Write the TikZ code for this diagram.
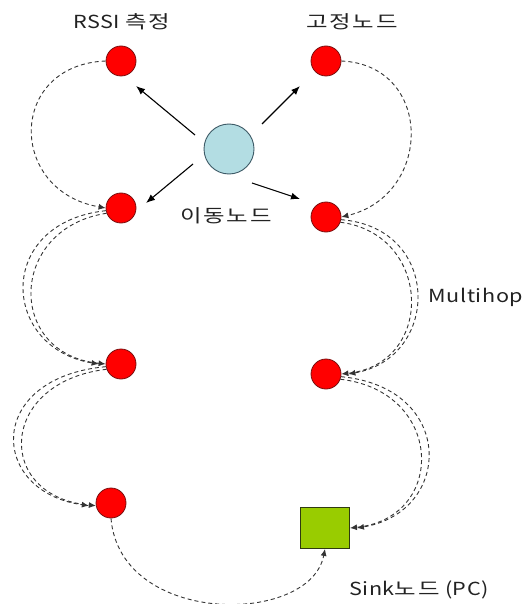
\documentclass[tikz,border=0pt]{standalone}
\usepackage{fontspec}
% Hangul and Latin runs use the same face with different tracking
\newfontfamily\krh[FakeStretch=1.3,LetterSpace=10]{Noto Sans CJK KR}
\newfontfamily\krl[FakeStretch=1.2,LetterSpace=3]{Noto Sans CJK KR}
\usetikzlibrary{arrows.meta,calc}
\definecolor{sensorred}{HTML}{FF0000}
\definecolor{sensoredge}{HTML}{7A1010}
\definecolor{mobilefill}{HTML}{B3DDE3}
\definecolor{mobileedge}{HTML}{3D5A66}
\definecolor{sinkfill}{HTML}{99CC00}
\definecolor{sinkedge}{HTML}{2F3A10}
\definecolor{linkgray}{HTML}{333333}
\definecolor{labelgray}{HTML}{222222}
\begin{document}
\begin{tikzpicture}[x=1pt,y=-1pt,
  sensor/.style={circle,fill=sensorred,draw=sensoredge,line width=0.8pt,minimum size=30pt,inner sep=0pt},
  mobile/.style={circle,fill=mobilefill,draw=mobileedge,line width=0.9pt,minimum size=50pt,inner sep=0pt},
  sinkbox/.style={rectangle,fill=sinkfill,draw=sinkedge,line width=0.9pt,minimum width=49pt,minimum height=41pt,inner sep=0pt},
  lbl/.style={font=\fontsize{18}{20}\selectfont,text=labelgray,inner sep=0pt},
  push/.style={draw=black,line width=1.1pt,-{Latex[length=9pt,width=7pt]}},
  link/.style={draw=linkgray,line width=0.9pt,dash pattern=on 4pt off 3pt,-{Latex[length=7pt,width=6pt]}}]
\useasboundingbox (0,0) rectangle (528,604);
\fill[white] (0,0) rectangle (528,604);

% nodes
\node[sensor] (L1) at (121,61) {};
\node[sensor] (R1) at (326,61) {};
\node[mobile] (C) at (229,149) {};
\node[sensor] (L2) at (121,208) {};
\node[sensor] (R2) at (326,217) {};
\node[sensor] (L3) at (121,364) {};
\node[sensor] (R3) at (326,374) {};
\node[sensor] (L4) at (111,503) {};
\node[sinkbox] (S) at (325,528) {};

% labels
\node[lbl] (tRssi) at (122,22) {\krl RSSI \krh 측정};
\node[lbl] (tFixed) at (352,22) {\krh 고정노드};
\node[lbl] (tMobile) at (226,216) {\krh 이동노드};
\node[lbl] (tHop) at (476,297) {\krl Multihop};
\node[lbl] (tSink) at (419,590) {\krl Sink\krh 노드\krl{} (PC)};

% mobile node broadcasting to its neighbours
\draw[push] ($(C)+(-34,-14)$) -- ($(L1)+(15,25)$);
\draw[push] ($(C)+(33,-25)$) -- ($(R1)+(-26,25)$);
\draw[push] ($(C)+(-36,15)$) -- ($(L2)+(25,-5)$);
\draw[push] ($(C)+(23,34)$) -- ($(R2)+(-26,-18)$);

% first hop (single)
\draw[link] (L1.west) .. controls +(-98,4) and +(-98,-17) .. (L2.west);
\draw[link] (R1.east) .. controls +(92,4) and +(92,-22) .. (R2.east);

% multihop relays (double, tips stacked on one line)
\draw[link] (L2.190) .. controls +(-111,12) and +(-98,-16) .. ([xshift=-7pt]L3.west);
\draw[link] (L2.200) .. controls +(-98,15) and +(-100,-10) .. (L3.west);

\draw[link] (R2.-10) .. controls +(101,8) and +(92,-16) .. ([xshift=7pt]R3.east);
\draw[link] (R2.-20) .. controls +(92,12) and +(94,-10) .. (R3.east);

\draw[link] (L3.190) .. controls +(-121,11) and +(-100,-14) .. ([xshift=-7pt]L4.190);
\draw[link] (L3.200) .. controls +(-109,13) and +(-101,-9) .. (L4.190);

\draw[link] (R3.-10) .. controls +(115,11) and +(96,-16) .. ([xshift=7pt]S.east);
\draw[link] (R3.-20) .. controls +(104,12) and +(97,-10) .. (S.east);

% last hop to the sink
\draw[link] (L4.south) .. controls +(9,108) and +(-15,77) .. (S.south);
\end{tikzpicture}
\end{document}
